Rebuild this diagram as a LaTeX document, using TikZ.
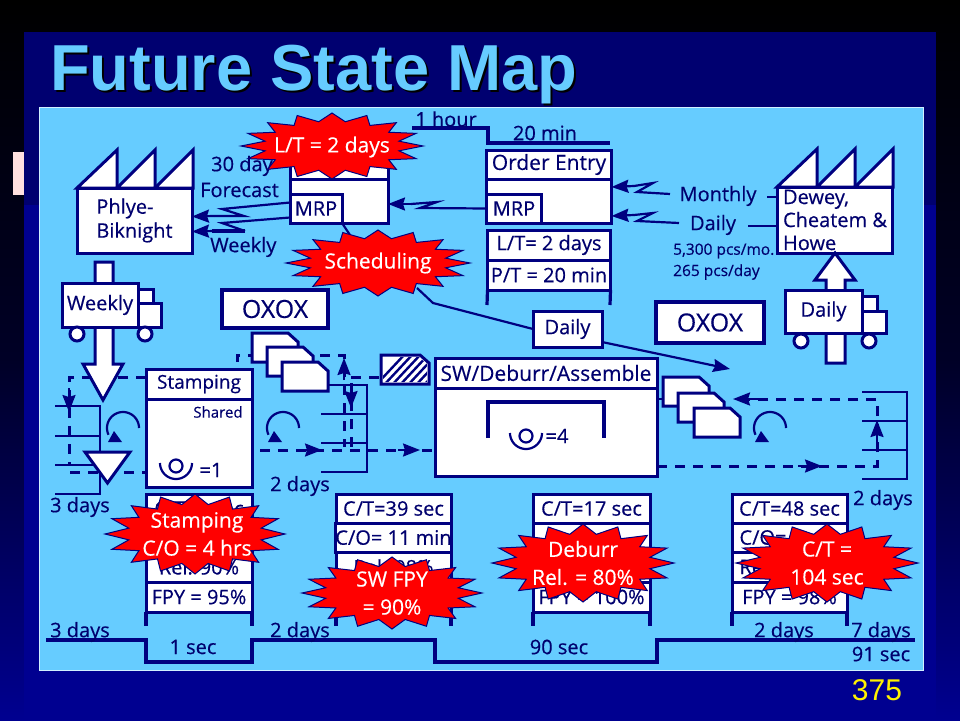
\documentclass[tikz,border=0pt]{standalone}
\usepackage{fontspec}
\setmainfont[FakeBold=0.4,AutoFakeBold=false]{Open Sans}
\newfontfamily\titlefont{Liberation Sans}
\usetikzlibrary{arrows.meta,calc}
\definecolor{nv}{HTML}{000080}
\definecolor{nvtxt}{HTML}{00006E}
\definecolor{panel}{HTML}{66CCFF}
\definecolor{slidetop}{HTML}{000070}
\definecolor{slidelow}{HTML}{000090}
\tikzset{
  ln/.style={draw=nv,line width=2.2pt,line join=miter},
  thick line/.style={draw=nv,line width=3.2pt},
  boxw/.style={draw=nv,fill=white,line width=3pt,inner sep=0pt,outer sep=0pt,text=nvtxt,font=\fontsize{20}{24}\selectfont},
  lab/.style={text=nvtxt,inner sep=0pt,font=\fontsize{20}{24}\selectfont},
  smalllab/.style={text=nvtxt,inner sep=0pt,font=\fontsize{15.5}{18}\selectfont,anchor=west},
  dashln/.style={draw=nv,line width=3pt,dash pattern=on 10pt off 8pt},
  tip/.style={draw=nv,line width=2.2pt,-{Stealth[length=17pt,width=13pt,inset=2pt]}},
  bursttxt/.style={text=white,inner sep=0pt,align=center,font=\fontsize{21}{28}\selectfont},
  burstfill/.style={fill=red,draw=nv,line width=1pt,line join=miter},
  page/.style={draw=nv,fill=white,line width=3pt,line join=miter},
  bigarrow/.style={draw=nv,fill=white,line width=3pt,line join=miter}
}
% centre x, centre y, radius x, radius y
\newcommand{\burstshape}[4]{%
  \filldraw[burstfill] plot[domain=0:32,samples=33]
   ({#1+#3*(.875+.125*cos(\x*180))*cos(\x*11.25)},{#2+#4*(.875+.125*cos(\x*180))*sin(\x*11.25)}) -- cycle;}
% left x, base y
\newcommand{\teeth}[2]{%
  \filldraw[page] (#1,#2) -- (#1+40,#2-38) -- (#1+40,#2) -- cycle;
  \filldraw[page] (#1+40,#2) -- (#1+78,#2-38) -- (#1+78,#2) -- cycle;
  \filldraw[page] (#1+78,#2) -- (#1+116,#2-38) -- (#1+116,#2) -- cycle;}
% x y: operator symbol
\newcommand{\operatorsym}[2]{%
  \draw[ln] (#1,#2) circle[radius=6.5];
  \draw[ln] plot[domain=0:180,samples=24] ({#1+16*cos(\x)},{#2-3+16*sin(\x)});}
% x y: kanban loop
\newcommand{\loopsym}[2]{%
  \draw[ln] plot[domain=0:-205,samples=30] ({#1+16*cos(\x)},{#2+16*sin(\x)});
  \fill[nv] (#1-15,#2+14) -- (#1-1,#2+14) -- (#1-9,#2+3) -- cycle;}
% x y: inventory page
\newcommand{\invpage}[2]{%
  \filldraw[page] (#1,#2) -- (#1+36,#2) -- (#1+46,#2+9) -- (#1+46,#2+29) -- (#1,#2+29) -- cycle;}
% name, left, right, rows
\newcommand{\databox}[7]{%
  \pgfmathsetmacro{\dbw}{#3-#2}%
  \node[boxw,minimum width=\dbw pt,minimum height=29pt] (#1a) at ({(#2+#3)/2},508.5) {#4};
  \node[boxw,minimum width=\dbw pt,minimum height=29pt] (#1b) at ({(#2+#3)/2},537.5) {#5};
  \node[boxw,minimum width=\dbw pt,minimum height=30pt] (#1c) at ({(#2+#3)/2},567) {#6};
  \node[boxw,minimum width=\dbw pt,minimum height=30pt] (#1d) at ({(#2+#3)/2},597) {#7};
  \coordinate (#1l) at (#2,626); \coordinate (#1r) at (#3,626);
  \draw[thick line] (#1d.south west) -- (#1l);
  \draw[thick line] (#1d.south east) -- (#1r);}
\begin{document}
\begin{tikzpicture}[x=1pt,y=-1pt]
\path[use as bounding box,top color=black,bottom color=slidelow,middle color=black!70!nv] (0,0) rectangle (960,720);
\fill[slidetop] (24,32) rectangle (936,205);
\fill[slidelow] (24,205) rectangle (936,720);
\fill[red!12!white] (13,152) rectangle (24,195);
\node[text=black,inner sep=0pt,anchor=base west,font=\titlefont\bfseries\fontsize{65}{70}\selectfont] (titleshade) at (52,92) {Future State Map};
\node[text=panel,inner sep=0pt,anchor=base west,font=\titlefont\bfseries\fontsize{65}{70}\selectfont] (title) at (50,90) {Future State Map};
\filldraw[fill=panel,draw=white!70!panel,line width=1pt] (39,107) rectangle (923,670);

% upper timeline
\coordinate (ta) at (412,128); \coordinate (tb) at (488,128); \coordinate (tc) at (488,143); \coordinate (td) at (610,143);
\draw[thick line] (ta) -- (tb) -- (tc) -- (td);
\node[lab] (onehour) at (446,119) {1 hour};
\node[lab] (twentymin) at (545,133) {20 min};

% factories
\teeth{77}{188}
\node[boxw,minimum width=115pt,minimum height=65pt,align=left,font=\fontsize{20}{24}\selectfont] (phlye) at (134.5,220.5) {Phlye-\\Biknight};
\teeth{777}{187}
\node[boxw,minimum width=115pt,minimum height=66pt,align=left,font=\fontsize{20}{23}\selectfont] (dewey) at (835,220) {Dewey,\\Cheatem \&\\Howe};

% production control and order entry
\node[boxw,minimum width=98pt,minimum height=45pt] (pcbody) at (339,201) {};
\node[boxw,minimum width=98pt,minimum height=24pt] (pchead) at (339,167) {};
\node[boxw,minimum width=52pt,minimum height=29pt] (mrpa) at (316,208.5) {MRP};
\node[boxw,minimum width=125pt,minimum height=29pt,font=\fontsize{21}{24}\selectfont] (oehead) at (549,164.5) {Order Entry};
\node[boxw,minimum width=125pt,minimum height=44pt] (oebody) at (549,201) {};
\node[boxw,minimum width=55pt,minimum height=29pt] (mrpb) at (514,208.5) {MRP};
\node[boxw,minimum width=123pt,minimum height=30pt] (oelt) at (549,245) {L/T= 2 days};
\node[boxw,minimum width=123pt,minimum height=30pt] (oept) at (549,275) {P/T = 20 min};
\coordinate (oel) at (487,305); \coordinate (oer) at (610,305);
\draw[thick line] (oept.south west) -- (oel);
\draw[thick line] (oept.south east) -- (oer);

% labels around the top
\node[lab,anchor=west] (thirty) at (211,166) {30 day};
\node[lab,anchor=west] (forecast) at (200,190) {Forecast};
\node[lab,anchor=west] (weekly) at (210,247) {Weekly};
\node[lab] (monthly) at (718,196) {Monthly};
\node[lab] (daily) at (713,225) {Daily};
\node[smalllab] (pcsmo) at (673,251) {5,300 pcs/mo.};
\node[smalllab] (pcsday) at (673,272) {265 pcs/day};

% electronic information arrows
\coordinate (la) at (222,209); \coordinate (lb) at (244,216);
\coordinate (lc) at (222,223); \coordinate (ld) at (245,231);
\draw[ln] ($(mrpa.west)+(0,-6)$) -- (la) -- (lb) -- (214,216);
\draw[tip] (214,216) -- ($(phlye.east)+(0,-4)$);
\draw[ln] ($(mrpa.west)+(0,9)$) -- (lc) -- (ld);
\draw[thick line] (ld) -- (212,231);
\draw[tip] (214,231) -- ($(phlye.east)+(0,11)$);
\coordinate (ma) at (420,208); \coordinate (mb) at (437,202);
\draw[ln] (mrpb.west) -- (ma) -- (mb) -- (411,204);
\draw[tip] (411,204) -- (pcbody.east |- 0,204);
\coordinate (ra) at (637,192); \coordinate (rb) at (653,183);
\draw[ln] (670,194) -- (ra) -- (rb) -- (634,186);
\draw[tip] (634,186) -- (oebody.east |- 0,187);
\coordinate (rc) at (637,221); \coordinate (rd) at (653,213);
\draw[ln] (679,223) -- (rc) -- (rd) -- (634,215);
\draw[tip] (634,215) -- (oebody.east |- 0,216);
\draw[ln] (767,197) -- (dewey.west |- 0,197);
\draw[ln] (748,226) -- (dewey.west |- 0,226);

% OXOX
\node[boxw,line width=3.5pt,minimum width=106pt,minimum height=38pt,font=\fontsize{25}{28}\selectfont] (oxl) at (275,309) {OXOX};
\node[boxw,line width=4pt,minimum width=108pt,minimum height=41pt,font=\fontsize{25}{28}\selectfont] (oxr) at (710,322.5) {OXOX};

% right shipping arrow and truck
\filldraw[bigarrow] (826,363) -- (826,280) -- (815,280) -- (835,253) -- (855,280) -- (845,280) -- (845,363) -- cycle;
\filldraw[page] (862,296) rectangle (877,311);
\filldraw[page] (862,311) rectangle (886,333);
\node[boxw,minimum width=77pt,minimum height=43pt] (truckr) at (823.5,311.5) {Daily};
\filldraw[page] (801,341) circle[radius=7];
\filldraw[page] (869,341) circle[radius=7];

% left shipping arrow and truck, dashed loop behind
\coordinate (ka) at (69,377); \coordinate (kb) at (69,465);
\coordinate (kc) at (70,472);
\draw[dashln] (146,377) -- (ka) -- (kb);
\draw[dashln] (kc) -- (146,472);
\draw[ln] (55,406) -- (100,406) -- (100,494) -- (55,494);
\draw[ln] (55,436) -- (100,436);
\draw[ln] (55,465) -- (100,465);
\draw[tip] (69,388) -- (69,412);
\filldraw[bigarrow] (95,262) -- (95,364) -- (83,364) -- (103,400) -- (123,364) -- (113,364) -- (113,262) -- cycle;
\filldraw[page] (138,289) rectangle (153,303);
\filldraw[page] (138,303) rectangle (161,327);
\node[boxw,minimum width=76pt,minimum height=44pt] (truckl) at (100,305) {Weekly};
\filldraw[page] (77,334) circle[radius=7];
\filldraw[page] (145,334) circle[radius=7];
\filldraw[page] (85,452) -- (130,452) -- (107.5,483) -- cycle;
\loopsym{123}{428}

% stamping
\node[boxw,minimum width=106pt,minimum height=30pt,font=\fontsize{19}{23}\selectfont] (stamphead) at (199,384) {Stamping};
\node[boxw,minimum width=106pt,minimum height=88pt] (stampbody) at (199,443) {};
\node[lab,font=\fontsize{15}{18}\selectfont] (shared) at (218,412) {Shared};
\operatorsym{176}{466}
\node[lab] (eqone) at (211,470) {=1};

% middle supermarket and arrows
\coordinate (ga) at (237,362); \coordinate (gb) at (237,355); \coordinate (gc) at (344,355); \coordinate (gd) at (344,447);
\coordinate (ge) at (351,447); \coordinate (gf) at (351,377);
\draw[dashln] (ga) -- (gb) -- (gc) -- (gd);
\draw[dashln] (ge) -- (gf);
\draw[ln] (328,385) -- (367,385) -- (367,472) -- (321,472);
\draw[ln] (321,414) -- (367,414);
\draw[ln] (321,443) -- (367,443);
\invpage{252}{333}
\invpage{267}{347}
\invpage{282}{362}
\node[lab] (twodaysa) at (300,486) {2 days};
\draw[tip] (344,380) -- (344,358);
\draw[tip] (351,384) -- (351,408);
\coordinate (he) at (260,450); \coordinate (hf) at (433,450);
\draw[dashln] (he) -- (hf);
\draw[tip] (300,450) -- (322,450);
\draw[tip] (398,450) -- (420,450);
\loopsym{283}{428}

% hatched box
\filldraw[page] (381,355) -- (420,355) -- (429,363) -- (429,384) -- (381,384) -- cycle;
\begin{scope}
  \clip (383,357) -- (419,357) -- (427,364) -- (427,382) -- (383,382) -- cycle;
  \foreach \hx in {375,383,...,439} { \draw[nv,line width=2.4pt] (\hx,386) -- (\hx+30,354); }
\end{scope}
\draw[dashln] (351,377) -- (381,377);

% assembly
\node[boxw,minimum width=222pt,minimum height=30pt,font=\fontsize{21}{24}\selectfont] (swhead) at (546,373) {SW/Deburr/Assemble};
\node[boxw,minimum width=222pt,minimum height=88pt] (swbody) at (546,432) {};
\coordinate (ba) at (488,438); \coordinate (bb) at (488,402); \coordinate (bc) at (604,402); \coordinate (bd) at (604,438);
\draw[thick line] (ba) -- (bb) -- (bc) -- (bd);
\operatorsym{526}{436}
\node[lab] (eqfour) at (557,436) {=4};

% right loop
\coordinate (sa) at (877,466); \coordinate (sb) at (877,399);
\draw[dashln] (swbody.east |- 0,466) -- (sa) -- (sb) -- (735,399);
\draw[ln] (swbody.east |- 0,399) -- (663,399);
\draw[ln] (862,392) -- (907,392) -- (907,479) -- (862,479);
\draw[ln] (862,421) -- (907,421);
\draw[ln] (862,450) -- (907,450);
\invpage{663}{377}
\invpage{678}{393}
\invpage{694}{408}
\draw[tip] (760,399) -- (733,399);
\draw[tip] (798,466) -- (822,466);
\draw[tip] (877,442) -- (877,420);
\loopsym{770}{428}
\node[lab] (twodaysb) at (883,500) {2 days};
\node[lab] (threedaysa) at (80,507) {3 days};

% schedule lines
\node[boxw,minimum width=69pt,minimum height=36pt] (dailybox) at (567.5,329) {Daily};
\coordinate (sca) at (417,288); \coordinate (scb) at (433,303);
\draw[ln] (mrpa.south east) -- (350,235);
\draw[ln] (sca) -- (scb) -- (dailybox.west);
\draw[ln,-{Stealth[length=17pt,width=13pt,inset=2pt]}] (dailybox.east |- 0,342) -- (730,369);

% data boxes
\databox{st}{146}{252}{C/T=1 sec}{}{Rel. 90\%}{FPY = 95\%}
\databox{sw}{336}{451}{C/T=39 sec}{C/O= 11 min}{Rel. 98\%}{}
\databox{db}{533}{650}{C/T=17 sec}{}{}{FPY = 100\%}
\databox{as}{732}{847}{C/T=48 sec}{\makebox[100pt][l]{C/O=}}{\makebox[100pt][l]{Re}}{FPY = 98\%}

% lower timeline
\coordinate (z0) at (46,640); \coordinate (z1) at (146,640); \coordinate (z2) at (146,662); \coordinate (z3) at (252,662);
\coordinate (z4) at (252,640); \coordinate (z5) at (435,640); \coordinate (z6) at (435,662); \coordinate (z7) at (657,662);
\coordinate (z8) at (657,640); \coordinate (z9) at (915,640);
\draw[thick line] (z0) -- (z1) -- (z2) -- (z3) -- (z4) -- (z5) -- (z6) -- (z7) -- (z8) -- (z9);
\node[lab] (threedaysb) at (80,632) {3 days};
\node[lab] (onesec) at (193,647) {1 sec};
\node[lab] (twodaysc) at (300,632) {2 days};
\node[lab] (ninetysec) at (559,647) {90 sec};
\node[lab] (twodaysd) at (784,632) {2 days};
\node[lab] (sevendays) at (881,632) {7 days};
\node[lab] (ninetyone) at (881,654) {91 sec};

% kaizen bursts
\burstshape{332}{146}{91}{33}
\node[bursttxt] (bursta) at (332,147) {L/T = 2 days};
\burstshape{378}{263}{92}{33}
\node[bursttxt] (burstb) at (378,263) {Scheduling};
\burstshape{195}{534}{90}{40}
\node[bursttxt] (burstc) at (197,534) {Stamping\\C/O = 4 hrs};
\burstshape{392}{593}{90}{36}
\node[bursttxt] (burstd) at (392,593) {SW FPY\\= 90\%};
\burstshape{583}{563}{91}{39}
\node[bursttxt] (burste) at (583,563) {Deburr\\Rel. = 80\%};
\burstshape{827}{563}{91}{39}
\node[bursttxt] (burstf) at (827,563) {C/T =\\104 sec};

\node[text=yellow,inner sep=0pt,font=\titlefont\fontsize{30}{36}\selectfont] (pagenum) at (877,690) {375};
\end{tikzpicture}
\end{document}
